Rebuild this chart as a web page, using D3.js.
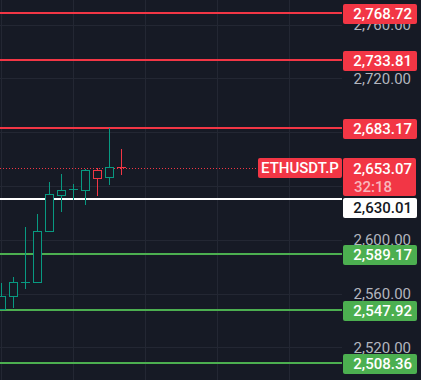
<!DOCTYPE html>
<html><head><meta charset="utf-8">
<script src="https://cdn.jsdelivr.net/npm/d3@7"></script>
<style>
html,body{margin:0;padding:0;background:#161a25;}
svg{display:block;}
</style></head>
<body>
<script>
// ---- data ----
const candleIndex = [0,1,2,3,4,5,6,7,8,9,10];
const openVals  = [2548.3, 2558.0, 2568.3, 2568.4, 2606.3, 2633.5, 2637.4, 2637.3, 2651.7, 2646.5, 2653.9];
const highVals  = [2567.9, 2572.3, 2609.5, 2619.4, 2643.2, 2648.9, 2641.5, 2652.9, 2653.4, 2682.9, 2667.5];
const lowVals   = [2547.9, 2549.5, 2563.6, 2568.4, 2606.3, 2620.9, 2629.8, 2625.9, 2632.8, 2640.8, 2648.2];
const closeVals = [2558.2, 2568.6, 2568.9, 2606.3, 2634.1, 2637.0, 2637.8, 2651.9, 2646.2, 2653.9, 2653.07];

const resistanceLevels = [2768.72, 2733.81, 2683.17];
const supportLevels = [2589.17, 2547.92, 2508.36];
const pivotLevel = [2630.01];
const lastPrice = 2653.07;
const symbol = "ETHUSDT.P";
const countdown = "32:18";
const priceGridTicks = [2520, 2560, 2600, 2640, 2680, 2720, 2760];
const priceLabelTicks = [2520, 2560, 2600, 2720, 2760]; // 2640 & 2680 hidden behind price labels
const timeGridTicks = [0, 6, 12, 18, 24];

// ---- layout ----
const W = 421, H = 380, plotR = 342;
const C = {bg:"#161a25", grid:"#232733", up:"#089981", down:"#f23645", red:"#f23645", green:"#4caf50", axis:"#b2b5be"};
const FONT = "Roboto, 'Noto Sans', sans-serif";

const y = d3.scaleLinear().domain([2508.36, 2768.72]).range([363, 13]);
const x = d3.scaleLinear().domain([0, 1]).range([1.5, 13.5]);

const svg = d3.select("body").append("svg").attr("width", W).attr("height", H);
svg.append("rect").attr("width", W).attr("height", H).attr("fill", C.bg);

// grid
const g = svg.append("g");
g.selectAll(".hg").data(priceGridTicks).join("line")
  .attr("x1", 0).attr("x2", plotR)
  .attr("y1", d => Math.round(y(d)) + 0.5).attr("y2", d => Math.round(y(d)) + 0.5)
  .attr("stroke", C.grid).attr("stroke-width", 1);
g.selectAll(".vg").data(timeGridTicks).join("line")
  .attr("x1", d => Math.floor(x(d)) + 0.5).attr("x2", d => Math.floor(x(d)) + 0.5)
  .attr("y1", 0).attr("y2", H)
  .attr("stroke", C.grid).attr("stroke-width", 1);

// axis labels
const axis = d3.axisRight(y).tickValues(priceLabelTicks).tickSize(0).tickPadding(0)
  .tickFormat(d3.format(",.2f"));
const ag = svg.append("g").attr("transform", `translate(${plotR},0)`).call(axis);
ag.select(".domain").remove();
ag.selectAll("text").attr("x", 69).attr("text-anchor", "end")
  .attr("fill", C.axis).style("font-family", FONT).style("font-size", "15px");

// horizontal levels
function levelLine(val, color) {
  const yy = Math.round(y(val));
  svg.append("line").attr("x1", 0).attr("x2", plotR).attr("y1", yy).attr("y2", yy)
    .attr("stroke", color).attr("stroke-width", 2);
}
resistanceLevels.forEach(v => levelLine(v, C.red));
supportLevels.forEach(v => levelLine(v, C.green));
pivotLevel.forEach(v => levelLine(v, "#ffffff"));

// last price dotted line
const yl = Math.round(y(lastPrice)) + 0.5;
svg.append("line").attr("x1", 0).attr("x2", 258).attr("y1", yl).attr("y2", yl)
  .attr("stroke", C.red).attr("stroke-width", 1).attr("stroke-dasharray", "1,2");

// candles
const cg = svg.append("g");
candleIndex.forEach(i => {
  const o = openVals[i], c = closeVals[i], hi = highVals[i], lo = lowVals[i];
  const col = c >= o ? C.up : C.down;
  const cx = x(i);
  const yt = Math.round(y(Math.max(o, c))), yb = Math.round(y(Math.min(o, c)));
  cg.append("line").attr("x1", cx).attr("x2", cx)
    .attr("y1", Math.round(y(hi))).attr("y2", Math.round(y(lo)))
    .attr("stroke", col).attr("stroke-width", 1);
  if (yb - yt < 2) {
    cg.append("line").attr("x1", cx - 4.5).attr("x2", cx + 4.5)
      .attr("y1", yt + 0.5).attr("y2", yt + 0.5).attr("stroke", col).attr("stroke-width", 1);
  } else {
    cg.append("rect").attr("x", cx - 4).attr("width", 8)
      .attr("y", yt + 0.5).attr("height", yb - yt)
      .attr("fill", C.bg).attr("stroke", col).attr("stroke-width", 1);
  }
});

// price labels
function priceLabel(val, bg, fg, shift) {
  const yy = Math.round(y(val)) + (shift || 0);
  svg.append("rect").attr("x", 343).attr("y", yy - 9).attr("width", 74).attr("height", 20)
    .attr("rx", 2).attr("fill", bg);
  svg.append("text").attr("x", 412).attr("y", yy + 1).attr("dy", "0.35em")
    .attr("text-anchor", "end").attr("fill", fg)
    .style("font-family", FONT).style("font-size", "15px").style("font-weight", "500")
    .text(d3.format(",.2f")(val));
}
resistanceLevels.forEach(v => priceLabel(v, C.red, "#ffffff"));
supportLevels.forEach(v => priceLabel(v, C.green, "#ffffff"));
// pivot label pushed below the last-price label (collision avoidance)
pivotLevel.forEach(v => priceLabel(v, "#ffffff", "#131722", 207 - Math.round(y(v))));

// last price label with countdown
const yp = Math.round(y(lastPrice));
svg.append("rect").attr("x", 343).attr("y", yp - 10).attr("width", 73).attr("height", 38)
  .attr("rx", 2).attr("fill", C.red);
svg.append("text").attr("x", 412).attr("y", yp + 1).attr("dy", "0.35em").attr("text-anchor", "end")
  .attr("fill", "#ffffff").style("font-family", FONT).style("font-size", "15px").style("font-weight", "500")
  .text(d3.format(",.2f")(lastPrice));
svg.append("text").attr("x", 354).attr("y", yp + 19).attr("dy", "0.35em").attr("text-anchor", "start")
  .attr("fill", "#f9b6bc").style("font-family", FONT).style("font-size", "15px").style("font-weight", "500")
  .text(countdown);
// symbol label
svg.append("rect").attr("x", 258).attr("y", yp - 10).attr("width", 84).attr("height", 20)
  .attr("rx", 2).attr("fill", C.red);
svg.append("text").attr("x", 300).attr("y", yp).attr("dy", "0.35em").attr("text-anchor", "middle")
  .attr("fill", "#ffffff").style("font-family", FONT).style("font-size", "15px").style("font-weight", "500")
  .text(symbol);
</script>
</body></html>
